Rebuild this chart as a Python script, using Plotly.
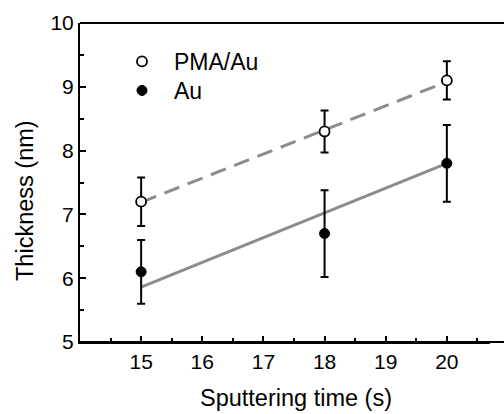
import plotly.graph_objects as go

# Data
time_s = [15, 18, 20]
pma_au = [7.2, 8.3, 9.1]
pma_au_err = [0.38, 0.33, 0.30]
au = [6.1, 6.7, 7.8]
au_err = [0.50, 0.68, 0.60]

fit_x = [15, 20]
fit_pma_au = [7.19, 9.08]
fit_au = [5.86, 7.80]

x_ticks = [15, 16, 17, 18, 19, 20]
y_ticks = [5, 6, 7, 8, 9, 10]

FONT = "Arial, Liberation Sans, sans-serif"
GRAY = "#8c8c8c"
W, H = 504, 414
PL, PR, PT, PB = 80, 14, 23, 72
PW, PH = W - PL - PR, H - PT - PB
X_EDGE = (W - PL) / PW  # paper x of the page's right edge

fig = go.Figure()

fig.add_trace(go.Scatter(x=fit_x, y=fit_pma_au, mode="lines",
                         line=dict(color=GRAY, width=3, dash="16px,9px"),
                         showlegend=False, hoverinfo="skip"))
fig.add_trace(go.Scatter(x=fit_x, y=fit_au, mode="lines",
                         line=dict(color=GRAY, width=3),
                         showlegend=False, hoverinfo="skip"))

fig.add_trace(go.Scatter(x=time_s, y=pma_au, mode="markers", name="PMA/Au",
                         legend="legend",
                         marker=dict(symbol="circle", size=10, color="white",
                                     line=dict(color="black", width=1.8)),
                         error_y=dict(type="data", array=pma_au_err, color="black",
                                      thickness=2, width=4)))
fig.add_trace(go.Scatter(x=time_s, y=au, mode="markers", name="Au",
                         legend="legend2",
                         marker=dict(symbol="circle", size=10, color="black",
                                     line=dict(color="black", width=1)),
                         error_y=dict(type="data", array=au_err, color="black",
                                      thickness=2, width=4)))

axis_common = dict(showline=True, linecolor="black", linewidth=2,
                   ticks="inside", ticklen=6, tickwidth=2, tickcolor="black",
                   showgrid=False, zeroline=False, mirror=False,
                   tickfont=dict(family=FONT, size=21, color="black"))

fig.update_xaxes(range=[14, 14 + PW / 61.14], tickmode="array", tickvals=x_ticks,
                 minor=dict(ticks="inside", ticklen=4, tickwidth=2,
                            tickcolor="black", dtick=0.5, tick0=14,
                            showgrid=False),
                 **axis_common)
fig.update_yaxes(range=[5, 10], tickmode="array", tickvals=y_ticks,
                 minor=dict(ticks="inside", ticklen=4, tickwidth=2,
                            tickcolor="black", dtick=0.5, tick0=5,
                            showgrid=False),
                 **axis_common)

# frame lines (top and bottom) run on to the right edge of the page
fig.add_shape(type="line", xref="paper", yref="paper", x0=0, x1=X_EDGE,
              y0=1, y1=1, line=dict(color="black", width=2), layer="above")
fig.add_shape(type="line", xref="paper", yref="paper", x0=0, x1=X_EDGE,
              y0=0, y1=0, line=dict(color="black", width=2), layer="above")

fig.add_annotation(text="Sputtering time (s)", xref="paper", yref="paper",
                   x=(295.5 - PL) / PW, y=-(398 - (PT + PH)) / PH,
                   xanchor="center", yanchor="middle",
                   showarrow=False, font=dict(family=FONT, size=23.5, color="black"))
fig.add_annotation(text="Thickness (nm)", xref="paper", yref="paper",
                   x=(25 - PL) / PW, y=((PT + PH) - 201) / PH,
                   xanchor="center", yanchor="middle",
                   textangle=-90, showarrow=False,
                   font=dict(family=FONT, size=23.5, color="black"))

legend_common = dict(xanchor="left", yanchor="top",
                     bgcolor="rgba(0,0,0,0)", borderwidth=0,
                     itemwidth=54,
                     font=dict(family=FONT, size=23, color="black"))

fig.update_layout(
    width=W, height=H,
    margin=dict(l=PL, r=PR, t=PT, b=PB),
    paper_bgcolor="white", plot_bgcolor="white",
    font=dict(family=FONT, size=21, color="black"),
    legend=dict(x=(110 - PL) / PW, y=1 - (40 - PT) / PH, **legend_common),
    legend2=dict(x=(110 - PL) / PW, y=1 - (69 - PT) / PH, **legend_common),
)

fig.write_html("out.html",
               config={"displayModeBar": False},
               post_script="document.body.style.margin='0';"
                           "document.body.style.overflow='hidden';")
